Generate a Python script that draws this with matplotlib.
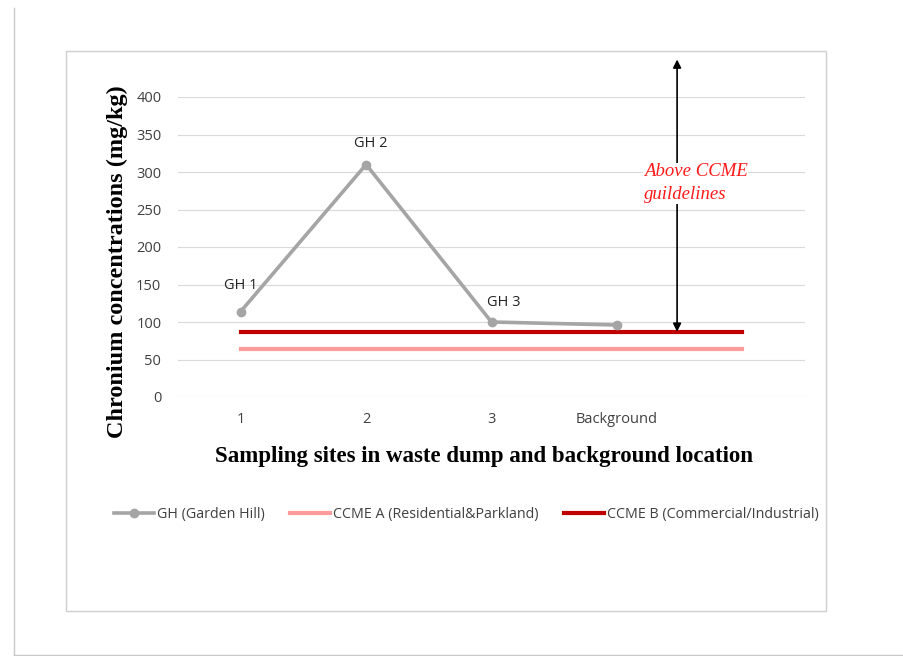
import matplotlib
matplotlib.use("Agg")
import matplotlib.pyplot as plt
from matplotlib.patches import Rectangle
from matplotlib.lines import Line2D

# categories on the x axis (the last slot is left blank, as in the original)
sites = ["1", "2", "3", "Background", ""]
# Garden Hill chromium values (mg/kg)
gh_values = [114, 310, 100, 96]
gh_labels = ["GH 1", "GH 2", "GH 3", ""]
# CCME guideline values (mg/kg)
ccme_a = [64, 64, 64, 64, 64]
ccme_b = [87, 87, 87, 87, 87]
yticks = [0, 50, 100, 150, 200, 250, 300, 350, 400]

tick_font = "Open Sans"
serif_font = "Liberation Serif"

fig = plt.figure(figsize=(9.04, 6.56), dpi=100)

# outer frame and inner chart box
fig.add_artist(Line2D([14/904, 14/904], [0/656, 1 - 8/656], color="#c8c8c8", lw=1,
                      transform=fig.transFigure))
fig.add_artist(Line2D([14/904, 1], [1 - 655/656, 1 - 655/656], color="#c8c8c8", lw=1,
                      transform=fig.transFigure))
fig.add_artist(Rectangle((66/904, 1 - 611/656), (826 - 66)/904, (611 - 51)/656,
                         transform=fig.transFigure, fill=False, edgecolor="#d0d0d0", lw=1))

ax = fig.add_axes([178/904, 1 - 397/656, (805 - 178)/904, 300/656])

x = list(range(len(sites)))
ax.plot(x[:len(gh_values)], gh_values, color="#A5A5A5", lw=2.6, marker="o", ms=6,
        label="GH (Garden Hill)", zorder=4)
ax.plot(x, ccme_a, color="#FF9B9B", lw=3, label="CCME A (Residential&Parkland)", zorder=3)
ax.plot(x, ccme_b, color="#C00000", lw=3, label="CCME B (Commercial/Industrial)", zorder=3)

# point labels
offsets = [(0, 13), (3, 10), (9, 9), (0, 0)]
for xi, yi, lab, off in zip(x, gh_values, gh_labels, offsets):
    if lab:
        ax.annotate(lab, (xi, yi), xytext=off, textcoords="offset points",
                    ha="center", va="bottom", fontsize=10.5, family=tick_font, color="#222222")

ax.set_xlim(-0.5, 4.5)
ax.set_ylim(0, 400)
ax.set_yticks(yticks)
ax.set_xticks(x)
ax.set_xticklabels(sites)
ax.tick_params(length=0, labelsize=10.5, colors="#404040", pad=12)
ax.tick_params(axis="x", pad=11)
for lab in ax.get_xticklabels() + ax.get_yticklabels():
    lab.set_family(tick_font)
for s in ax.spines.values():
    s.set_visible(False)
ax.grid(axis="y", color="#d9d9d9", lw=0.8)
ax.set_axisbelow(True)

ax.set_ylabel("Chronium concentrations (mg/kg)", family=serif_font, fontweight="bold",
              fontsize=17.5)
ax.yaxis.set_label_coords(-0.08, 0.45)
ax.set_xlabel("Sampling sites in waste dump and background location", family=serif_font,
              fontweight="bold", fontsize=16.5)
ax.xaxis.set_label_coords(0.488, -0.163)

# arrow marking the zone above the guidelines
ax.annotate("", xy=(3.48, 87), xytext=(3.48, 450),
            arrowprops=dict(arrowstyle="<|-|>", color="black", lw=1.2, mutation_scale=12,
                            shrinkA=0, shrinkB=0),
            annotation_clip=False)
ax.text(3.215, 285, "Above CCME\nguildelines", color="#FF1A1A", style="italic",
        family=serif_font, fontsize=13.5, ha="left", va="center", linespacing=1.45,
        bbox=dict(facecolor="white", edgecolor="none", pad=0.5), zorder=5)

leg = ax.legend(loc="upper center", bbox_to_anchor=(0.46, -0.325), ncol=3, frameon=False,
                prop={"family": tick_font, "size": 10.3}, handlelength=2.8,
                handletextpad=0.2, columnspacing=1.8)
for t in leg.get_texts():
    t.set_color("#404040")

fig.savefig("out.png", dpi=100)
